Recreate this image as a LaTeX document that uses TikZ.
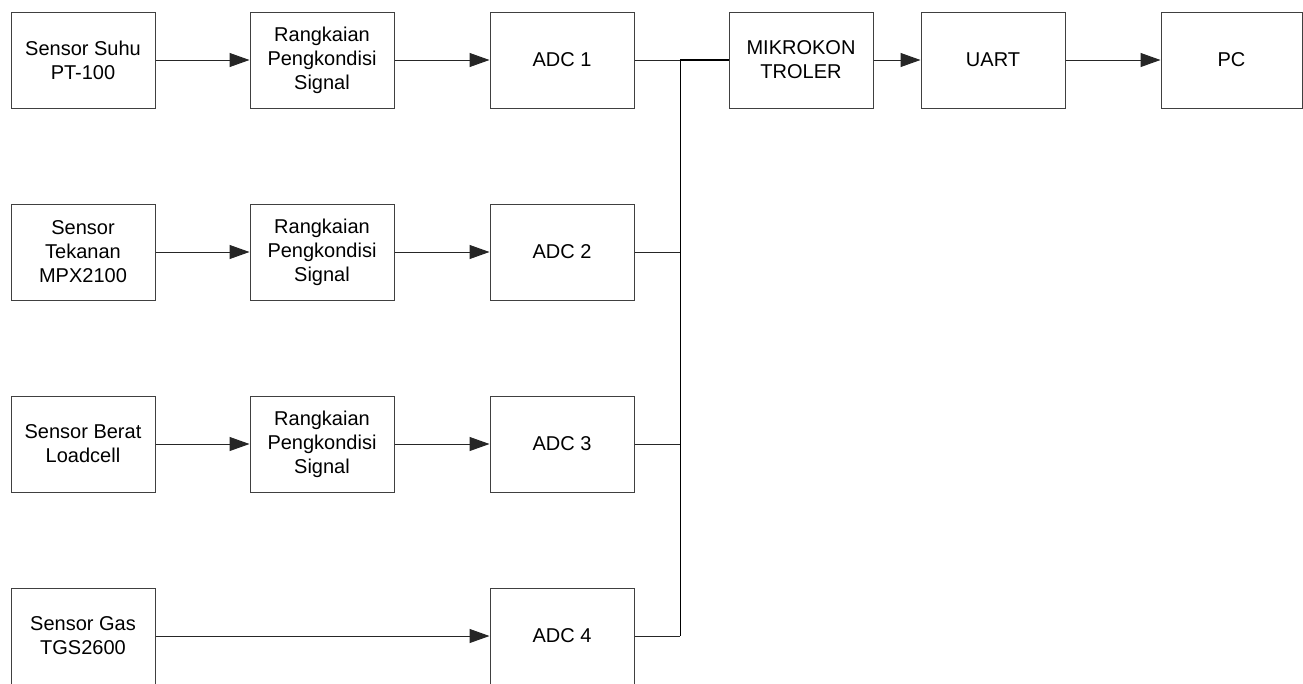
\documentclass[tikz,border=0pt]{standalone}
\usepackage{fontspec}
\setmainfont{Liberation Sans}
\usetikzlibrary{arrows.meta}
\begin{document}
\begin{tikzpicture}[x=1pt,y=-1pt,
  blk/.style={draw=black!75,line width=1pt,minimum width=144pt,minimum height=96pt,inner sep=0pt,align=center,font=\fontsize{20}{24}\selectfont},
  conn/.style={draw=black!85,line width=1pt},
  arr/.style={conn,-{Triangle[length=20pt,width=14pt]}}]
\useasboundingbox (0,0) rectangle (1303,683);
\fill[white] (0,0) rectangle (1303,683);
% row 1
\node[blk] (s1) at (83,60) {Sensor Suhu\\PT-100};
\node[blk] (r1) at (322,60) {Rangkaian\\Pengkondisi\\Signal};
\node[blk] (a1) at (562,60) {ADC 1};
\node[blk] (mk) at (801,60) {MIKROKON\\TROLER};
\node[blk] (ua) at (993,60) {UART};
\node[blk,minimum width=141pt] (pc) at (1231.5,60) {PC};
% row 2
\node[blk] (s2) at (83,252) {Sensor\\Tekanan\\MPX2100};
\node[blk] (r2) at (322,252) {Rangkaian\\Pengkondisi\\Signal};
\node[blk] (a2) at (562,252) {ADC 2};
% row 3
\node[blk] (s3) at (83,444) {Sensor Berat\\Loadcell};
\node[blk] (r3) at (322,444) {Rangkaian\\Pengkondisi\\Signal};
\node[blk] (a3) at (562,444) {ADC 3};
% row 4
\node[blk] (s4) at (83,636) {Sensor Gas\\TGS2600};
\node[blk] (a4) at (562,636) {ADC 4};
% junctions
\coordinate (j1) at (680,60);
\coordinate (j2) at (680,252);
\coordinate (j3) at (680,444);
\coordinate (j4) at (680,636);
% arrows
\draw[arr] (s1) -- (r1);
\draw[arr] (r1) -- (a1);
\draw[arr] (s2) -- (r2);
\draw[arr] (r2) -- (a2);
\draw[arr] (s3) -- (r3);
\draw[arr] (r3) -- (a3);
\draw[arr] (s4) -- (a4);
\draw[arr] (mk) -- (ua);
\draw[arr] (ua) -- (pc);
% bus
\draw[conn] (a1.east) -- (j1);
\draw[conn,draw=black,line width=1.3pt] (j1) -- (mk.west);
\draw[conn] (a2.east) -- (j2);
\draw[conn] (a3.east) -- (j3);
\draw[conn] (a4.east) -- (j4);
\draw[conn,draw=black] (j1) -- (j4);
\end{tikzpicture}
\end{document}
